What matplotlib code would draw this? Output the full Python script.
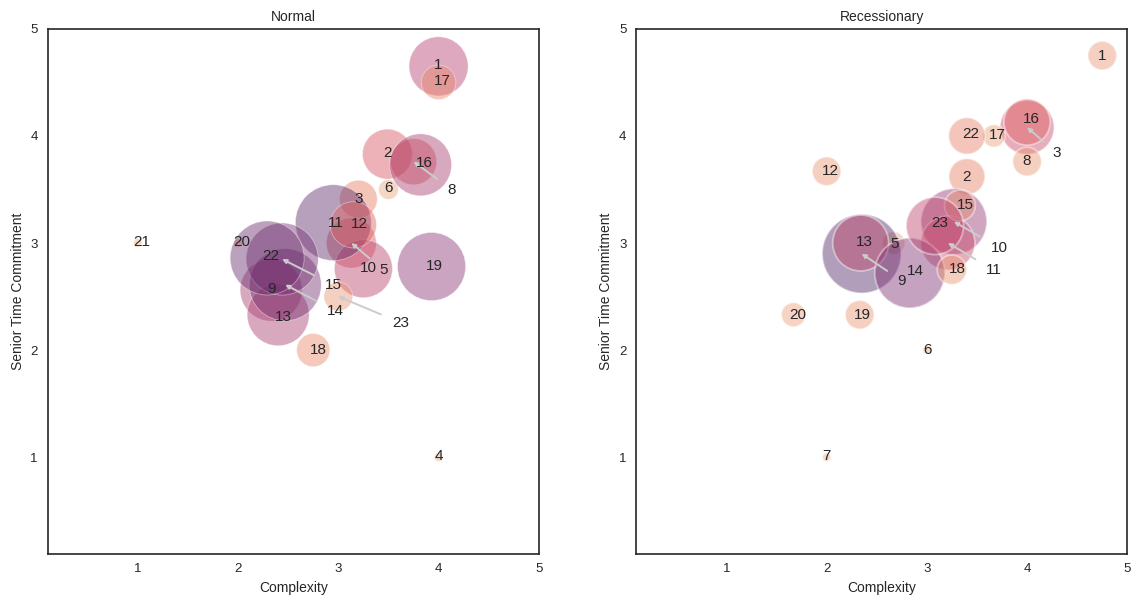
import numpy as np
import pandas as pd
import matplotlib
matplotlib.use("Agg")
import matplotlib.pyplot as plt
import seaborn as sns

nan = np.nan
items = [str(i) for i in range(1, 24)]

normal_complexity = [4.0, 3.49, 3.2, 4.0, 3.13, 3.5, nan, 3.75, 2.33, 3.25, 2.95, 3.15,
                     2.4, 2.47, 2.44, 3.82, 4.0, 2.75, 3.93, 2.0, 1.0, 2.29, 3.0]
normal_senior = [4.65, 3.83, 3.41, 1.0, 3.0, 3.5, nan, 3.76, 2.56, 2.76, 3.19, 3.17,
                 2.33, 2.61, 2.85, 3.73, 4.5, 2.0, 2.78, 3.0, 3.0, 2.86, 2.5]
normal_weight = [87, 62, 35, 1, 62, 9, nan, 53, 96, 84, 144, 53,
                 96, 130, 130, 96, 29, 27, 116, 1, 1, 137, 20]

recess_complexity = [4.75, 3.4, 4.0, nan, 2.67, 3.0, 2.0, 4.0, 2.35, 3.27, 3.21, 2.0,
                     2.34, 2.83, 3.33, 4.0, 3.67, 3.25, 2.33, 1.67, nan, 3.4, 3.08]
recess_senior = [4.75, 3.62, 4.08, nan, 3.0, 2.0, 1.0, 3.76, 2.9, 3.2, 3.0, 3.67,
                 3.0, 2.72, 3.35, 4.13, 4.0, 2.75, 2.33, 2.33, nan, 4.0, 3.16]
recess_weight = [20, 32, 73, nan, 12, 1, 1, 20, 156, 109, 73, 20,
                 78, 123, 23, 53, 12, 21, 20, 14, nan, 33, 82]

# label offsets in pixels (dx right, dy down); arrows for displaced labels
normal_offsets = {"1": (0, -1), "17": (4, -1), "2": (0, -1), "16": (4, -2), "8": (38, 28),
                  "6": (0, -1), "3": (0, 0), "11": (3, 0), "12": (6, -1), "5": (32, 27),
                  "10": (5, -1), "19": (3, -1), "21": (4, -1), "20": (4, -1), "22": (4, -2),
                  "15": (51, 26), "9": (0, -1), "14": (50, 26), "23": (62, 26), "13": (5, 2),
                  "18": (5, 0), "4": (0, -1)}
normal_arrows = {"8", "5", "15", "14", "23"}
recess_offsets = {"1": (0, 0), "16": (4, -3), "3": (30, 26), "8": (0, -1), "17": (3, -1),
                  "22": (4, -2), "12": (4, 0), "2": (0, 0), "15": (5, -1), "10": (45, 26),
                  "23": (5, -3), "11": (46, 27), "18": (5, -1), "13": (4, -1), "5": (1, 1),
                  "9": (40, 27), "14": (6, -2), "20": (4, 0), "19": (3, 0), "6": (1, 0),
                  "7": (0, -1)}
recess_arrows = {"3", "10", "11", "9"}

sns.set_style("white")
plt.rcParams["font.family"] = ["Liberation Sans", "DejaVu Sans"]

fig, axes = plt.subplots(1, 2, figsize=(11.33, 6.01), dpi=100)
fig.subplots_adjust(left=0.042, right=0.995, top=0.952, bottom=0.079, wspace=0.198)

panels = [
    ("Normal", normal_complexity, normal_senior, normal_weight, normal_offsets, normal_arrows),
    ("Recessionary", recess_complexity, recess_senior, recess_weight, recess_offsets, recess_arrows),
]
wmin, wmax = 1, 156
px2pt = 72 / 100
for ax, (title, xs, ys, ws, offs, arrows) in zip(axes, panels):
    df = pd.DataFrame({"item": items, "Complexity": xs, "Senior Time Commitment": ys, "w": ws}).dropna()
    sns.scatterplot(data=df, x="Complexity", y="Senior Time Commitment", size="w", hue="w",
                    sizes=(38, 20.7 * wmax), size_norm=(wmin, wmax), hue_norm=(wmin, wmax),
                    palette="flare", alpha=0.44, legend=False, ax=ax)
    for _, r in df.iterrows():
        dx, dy = offs.get(r["item"], (0, 0))
        kw = dict(xy=(r["Complexity"], r["Senior Time Commitment"]),
                  xytext=(dx * px2pt, -dy * px2pt), textcoords="offset points",
                  ha="center", va="center", fontsize=11, color="#262626")
        if r["item"] in arrows:
            kw["arrowprops"] = dict(arrowstyle="-|>", color="#cccccc", lw=1.4,
                                    mutation_scale=6, shrinkA=6, shrinkB=0)
        ax.annotate(r["item"], **kw)
    ax.set_xlim(0.1, 5)
    ax.set_ylim(0.1, 5)
    ax.set_xticks([1, 2, 3, 4, 5])
    ax.set_yticks([1, 2, 3, 4, 5])
    ax.tick_params(labelsize=9.5, colors="#262626")
    ax.set_title(title, fontsize=10, color="#262626", pad=6)
    ax.set_xlabel("Complexity", fontsize=10, color="#262626", labelpad=4)
    ax.set_ylabel("Senior Time Commitment", fontsize=10, color="#262626", labelpad=4)
    for s in ax.spines.values():
        s.set_color("#262626")
        s.set_linewidth(1.2)

fig.savefig("out.png", dpi=100)
